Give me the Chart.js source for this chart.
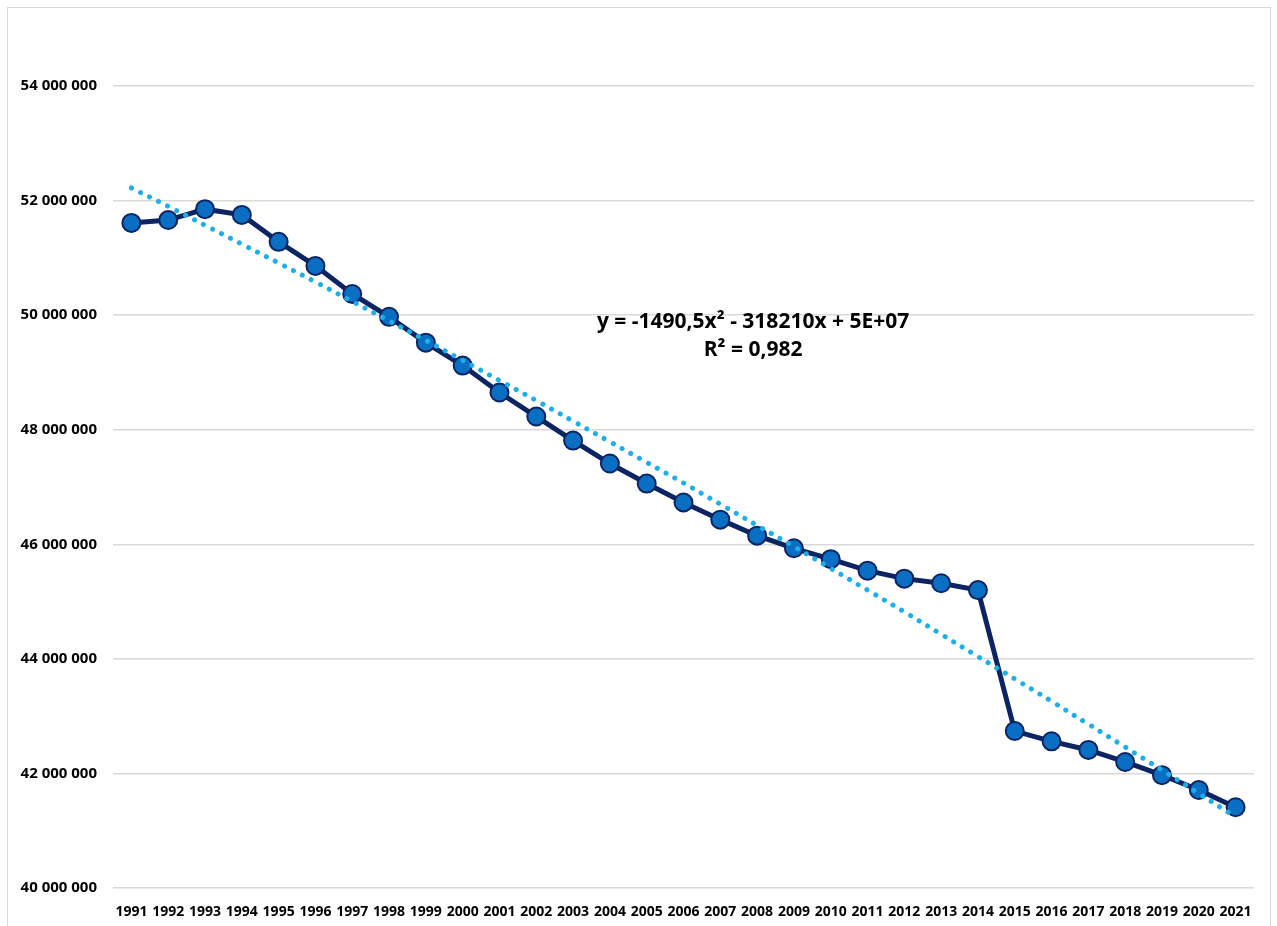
<!DOCTYPE html>
<html lang="fr">

<head>
    <meta charset="UTF-8">
    <title>Population 1991-2021</title>
    <script src="https://cdn.jsdelivr.net/npm/chart.js"></script>
    <style>
        body {
            margin: 0;
            background: #ffffff;
            width: 1277px;
            height: 926px;
            overflow: hidden;
            position: relative;
        }

        .frame {
            position: absolute;
            left: 7px;
            top: 7px;
            width: 1262px;
            height: 940px;
            border: 1px solid #d9d9d9;
        }

        #grafico {
            position: absolute;
            left: 0;
            top: 0;
        }
    </style>
</head>

<body>
    <div class="frame"></div>
    <canvas id="grafico" width="1277" height="926"></canvas>

    <script>
        const annees = ['1991', '1992', '1993', '1994', '1995', '1996', '1997', '1998', '1999', '2000',
            '2001', '2002', '2003', '2004', '2005', '2006', '2007', '2008', '2009', '2010',
            '2011', '2012', '2013', '2014', '2015', '2016', '2017', '2018', '2019', '2020', '2021'];

        const population = [51610000, 51660000, 51850000, 51750000, 51280000, 50860000, 50370000, 49970000,
            49520000, 49120000, 48650000, 48230000, 47810000, 47410000, 47060000, 46730000, 46430000,
            46150000, 45930000, 45740000, 45540000, 45400000, 45320000, 45200000, 42740000, 42560000,
            42410000, 42200000, 41970000, 41710000, 41410000];

        // courbe de tendance (polynomiale)
        const tendance = [52220000, 51900000, 51570000, 51240000, 50910000, 50580000, 50240000, 49900000,
            49560000, 49210000, 48860000, 48510000, 48150000, 47790000, 47430000, 47070000, 46700000,
            46330000, 45960000, 45580000, 45200000, 44820000, 44430000, 44040000, 43650000, 43260000,
            42860000, 42460000, 42060000, 41650000, 41240000];

        const yTicks = [40000000, 42000000, 44000000, 46000000, 48000000, 50000000, 52000000, 54000000];

        const equation = ['y = -1490,5x² - 318210x + 5E+07', 'R² = 0,982'];

        function formatNombre(v) {
            return String(v).replace(/\B(?=(\d{3})+(?!\d))/g, ' ');
        }

        const equationPlugin = {
            id: 'equation',
            afterDatasetsDraw(chart) {
                const c = chart.ctx;
                const area = chart.chartArea;
                const x = area.left + (area.right - area.left) * 0.561;
                c.save();
                c.fillStyle = '#000000';
                c.font = 'bold 21px "Open Sans"';
                c.textAlign = 'center';
                c.textBaseline = 'middle';
                c.fillText(equation[0], x, 322);
                c.fillText(equation[1], x, 350);
                c.restore();
            }
        };

        const ctx = document.getElementById('grafico').getContext('2d');
        const chart = new Chart(ctx, {
            type: 'line',
            data: {
                labels: annees,
                datasets: [{
                    label: 'Tendance',
                    data: tendance,
                    borderColor: '#1eaee8',
                    borderWidth: 5,
                    borderDash: [0.1, 10],
                    borderCapStyle: 'round',
                    pointRadius: 0,
                    tension: 0.4,
                    fill: false,
                    order: 0
                }, {
                    label: 'Population',
                    data: population,
                    borderColor: '#0c2461',
                    borderWidth: 5,
                    pointRadius: 9,
                    pointBackgroundColor: '#0a6fc2',
                    pointBorderColor: '#0c2461',
                    pointBorderWidth: 2,
                    tension: 0,
                    fill: false,
                    order: 1
                }]
            },
            options: {
                responsive: false,
                animation: false,
                layout: {
                    padding: { top: 86, right: 23, bottom: 8, left: 0 }
                },
                plugins: {
                    legend: { display: false },
                    tooltip: { enabled: false }
                },
                scales: {
                    x: {
                        offset: true,
                        afterFit(scale) {
                            scale.height = 30;
                        },
                        grid: { display: false, drawTicks: false },
                        border: { display: false },
                        ticks: {
                            autoSkip: false,
                            maxRotation: 0,
                            padding: 16,
                            color: '#000000',
                            font: { family: 'Open Sans', size: 14, weight: 'bold' }
                        }
                    },
                    y: {
                        min: 40000000,
                        max: 54000000,
                        afterBuildTicks(scale) {
                            scale.ticks = yTicks.map(v => ({ value: v }));
                        },
                        afterFit(scale) {
                            scale.width = 113;
                        },
                        grid: { color: '#d9d9d9', lineWidth: 1.5, drawTicks: false },
                        border: { display: false },
                        ticks: {
                            padding: 16,
                            color: '#000000',
                            font: { family: 'Open Sans', size: 15, weight: 'bold' },
                            callback: v => formatNombre(v)
                        }
                    }
                }
            },
            plugins: [equationPlugin]
        });
    </script>
</body>

</html>
